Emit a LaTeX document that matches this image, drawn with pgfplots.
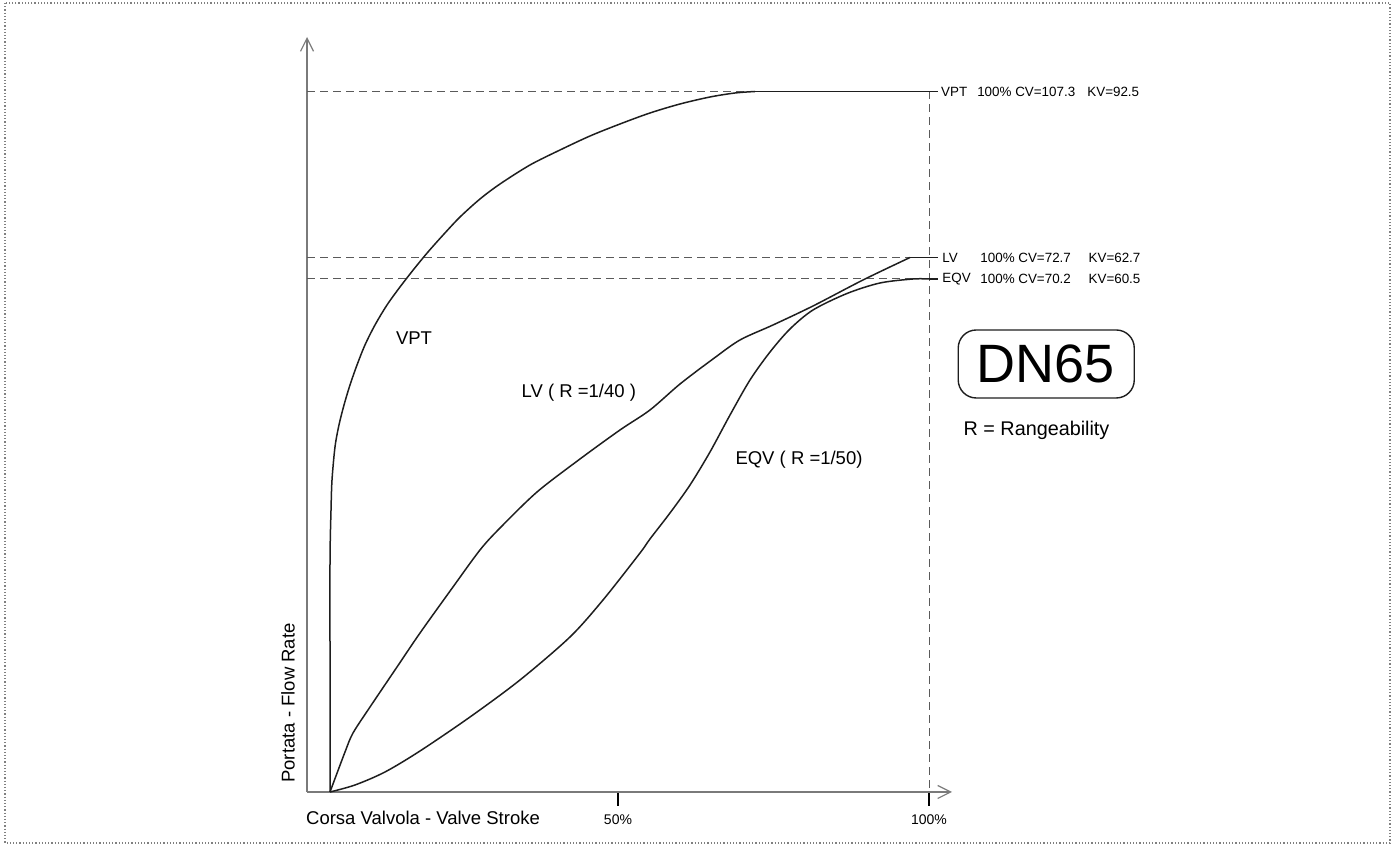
\documentclass[border=0pt]{standalone}
\usepackage{pgfplots}
\pgfplotsset{compat=1.18}
\usetikzlibrary{arrows.meta}
\usepackage{fontspec}
\setmainfont{Liberation Sans}
\definecolor{curve}{HTML}{1E1E1E}
\definecolor{guide}{HTML}{5A5A5A}
\definecolor{axisgray}{HTML}{7A7A7A}
\begin{document}
\begin{tikzpicture}
\begin{axis}[
  x=3.11pt, y=0.5pt,
  xmin=0, xmax=103.7, ymin=0, ymax=755,
  axis lines=left,
  axis line style={axisgray, line width=0.6pt, -{Straight Barb[length=6.5pt,width=6.5pt]}},
  xtick={50,100}, xticklabels={50\%,100\%},
  ytick=\empty,
  tick align=outside,
  major tick length=7pt,
  tick style={black, line width=0.6pt},
  xticklabel style={font=\fontsize{7}{8}\selectfont, yshift=-1pt},
  clip=false,
]
% full picture extent
\path (axis cs:-49.36,792) rectangle (axis cs:174.76,-54);
\draw[gray, line width=0.6pt, densely dotted] (axis cs:-48.55,789) rectangle (axis cs:174.1,-51);

% guide lines
\addplot[guide, line width=0.5pt, dash pattern=on 4pt off 2.5pt] coordinates {(0,700.5) (100,700.5)};
\addplot[guide, line width=0.5pt, dash pattern=on 4pt off 2.5pt] coordinates {(0,534.5) (100,534.5)};
\addplot[guide, line width=0.5pt, dash pattern=on 4pt off 2.5pt] coordinates {(0,513) (100,513)};
\addplot[guide, line width=0.5pt, dash pattern=on 4pt off 2.5pt] coordinates {(100,700.5) (100,0)};
\addplot[curve, line width=0.6pt] coordinates {(100,700.5) (101.4,700.5)};
\addplot[curve, line width=0.6pt] coordinates {(96.95,534.5) (101.4,534.5)};
\addplot[curve, line width=0.6pt] coordinates {(100,513) (101.4,513)};

% VPT
\addplot[curve, line width=0.75pt, smooth, tension=0.5] coordinates {
(3.70,0) (3.70,120) (3.70,232) (3.86,282) (4.02,312) (4.50,345) (5.14,367)
(5.95,387) (6.91,407) (8.04,427) (9.32,447) (10.93,467) (12.86,487)
(14.95,505) (17.20,523) (19.45,540) (22.03,558) (24.60,575) (27.81,593)
(31.03,608) (35.85,627) (40.68,642) (45.50,656) (50.32,668) (55.14,679)
(59.97,688) (64.79,695) (68.81,699) (72.03,700.5)};
\addplot[curve, line width=0.75pt] coordinates {(72.03,700.5) (100,700.5)};
% LV
\addplot[curve, line width=0.75pt, smooth, tension=0.5] coordinates {
(3.70,0) (6.11,40) (7.40,59) (10.13,85) (14.47,125) (18.17,159) (23.47,205)
(27.81,242) (31.03,264) (36.98,300) (43.89,333) (50.32,362) (55.14,382)
(59.97,408) (65.27,433) (69.61,452) (74.92,467) (81.35,486) (89.39,512)
(96.95,534.5)};
% EQV
\addplot[curve, line width=0.75pt, smooth, tension=0.5] coordinates {
(3.70,0) (7.72,7) (12.54,20) (18.17,41) (26.21,75) (34.24,112) (42.28,155)
(47.59,192) (53.54,239) (55.14,253) (58.36,279) (61.58,307) (64.79,340)
(68.01,377) (71.22,412) (74.44,440) (77.65,463) (81.35,482) (86.82,498.5)
(92.12,509) (97.43,513) (100,513)};

% right-hand annotations
\begin{scope}[font=\fontsize{6.7}{8}\selectfont]
\node[anchor=west, inner sep=0pt] at (axis cs:101.9,700.5) {VPT};
\node[anchor=west, inner sep=0pt] at (axis cs:107.7,700.5) {100\% CV=107.3};
\node[anchor=west, inner sep=0pt] at (axis cs:125.4,700.5) {KV=92.5};
\node[anchor=west, inner sep=0pt] at (axis cs:102.1,534.5) {LV};
\node[anchor=west, inner sep=0pt] at (axis cs:108.2,534.5) {100\% CV=72.7};
\node[anchor=west, inner sep=0pt] at (axis cs:125.6,534.5) {KV=62.7};
\node[anchor=west, inner sep=0pt] at (axis cs:102.1,513) {EQV};
\node[anchor=west, inner sep=0pt] at (axis cs:108.2,513) {100\% CV=70.2};
\node[anchor=west, inner sep=0pt] at (axis cs:125.6,513) {KV=60.5};
\end{scope}

% curve labels
\begin{scope}[font=\fontsize{9.25}{11}\selectfont]
\node at (axis cs:17.2,454) {VPT};
\node at (axis cs:43.7,399) {LV ( R =1/40 )};
\node at (axis cs:79.1,332) {EQV ( R =1/50)};
\node[anchor=west, inner sep=0pt] at (axis cs:-0.2,-26) {Corsa Valvola - Valve Stroke};
\node[rotate=90, inner sep=0pt] at (axis cs:-3.05,89) {Portata - Flow Rate};
\end{scope}

% DN65 box
\draw[curve, line width=0.7pt, rounded corners=9pt] (axis cs:104.7,462) rectangle (axis cs:133.0,394);
\node[font=\fontsize{27}{30}\selectfont] at (axis cs:118.8,428) {DN65};
\node[anchor=west, inner sep=0pt, font=\fontsize{9.9}{12}\selectfont] at (axis cs:105.5,362) {R = Rangeability};
\end{axis}
\end{tikzpicture}
\end{document}
